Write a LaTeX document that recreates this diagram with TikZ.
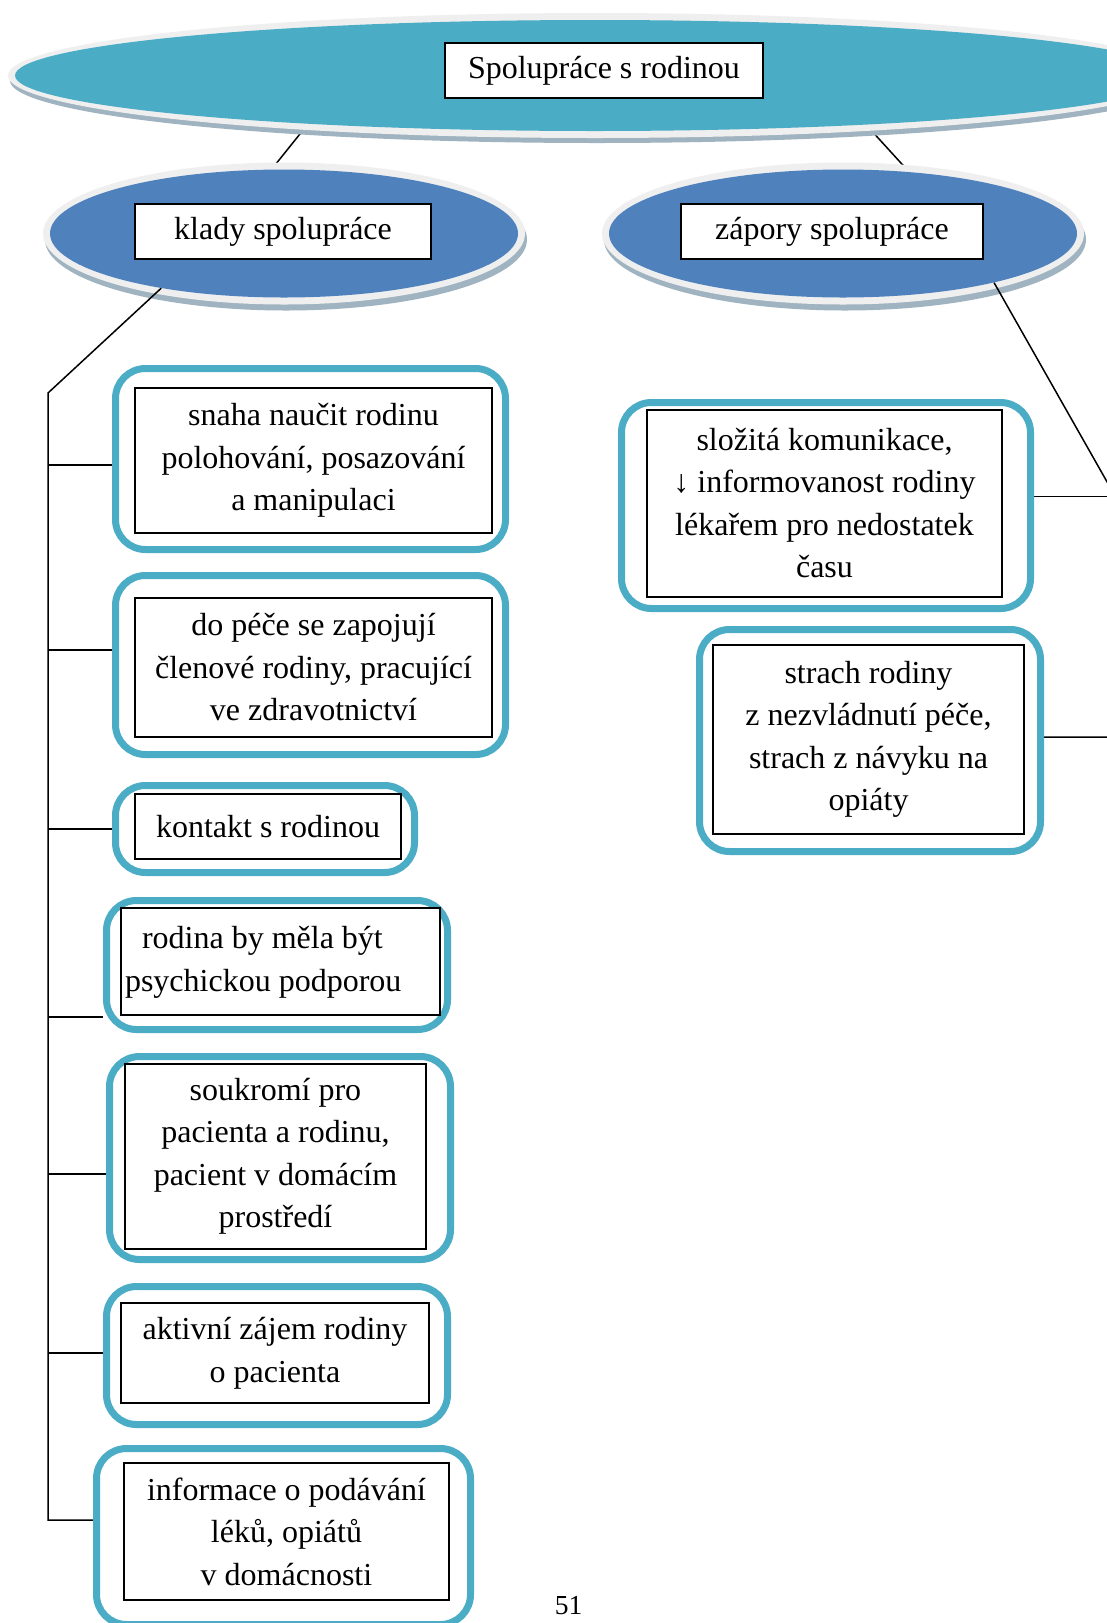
\documentclass[tikz,border=0pt]{standalone}
\usepackage{fontspec}
\setmainfont{Liberation Serif}
\usetikzlibrary{shapes.geometric,calc}
\pgfdeclarelayer{deep}
\pgfdeclarelayer{rims}
\pgfdeclarelayer{links}
\pgfsetlayers{deep,rims,links,main}
\definecolor{capteal}{HTML}{4BACC6}
\definecolor{capblue}{HTML}{4F81BD}
\definecolor{caprim}{HTML}{EFEFEF}
\definecolor{capshade}{HTML}{9FB3C0}
\begin{document}
\begin{tikzpicture}[x=1pt,y=1pt,
  every node/.style={font=\fontsize{32pt}{42.5pt}\selectfont, inner sep=0pt},
  disc/.style={ellipse, fill=#1, draw=none, inner sep=0pt},
  textbox/.style={draw=black, line width=2pt, fill=white, align=center},
  tealframe/.style={draw=capteal, line width=7pt, rounded corners=30pt},
  link/.style={draw=black, line width=1.5pt},
]
\useasboundingbox (0,0) rectangle (1107,-1623);

% --- headings on their discs ---
\node[disc=capteal, minimum width=1160pt, minimum height=111pt] (top) at (595,-75.5) {};
\node[textbox, minimum width=318pt, minimum height=55pt] (topt) at (604,-70.5) {Spolupráce s rodinou};
\node[disc=capblue, minimum width=468pt, minimum height=128pt] (pros) at (284,-233.5) {};
\node[textbox, minimum width=296pt, minimum height=55pt] (prost) at (283,-231.5) {klady spolupráce};
\node[disc=capblue, minimum width=468pt, minimum height=128pt] (cons) at (843,-233.5) {};
\node[textbox, minimum width=302pt, minimum height=55pt] (const) at (832,-231.5) {zápory spolupráce};

% --- advantages (left column) ---
\node[tealframe, minimum width=390pt, minimum height=181pt] (l1) at (310.5,-459) {};
\node[textbox, minimum width=357pt, minimum height=145pt] (t1) at (313.5,-460.5)
  {snaha naučit rodinu\\polohování, posazování\\a manipulaci};
\node[tealframe, minimum width=390pt, minimum height=179pt] (l2) at (310.5,-665) {};
\node[textbox, minimum width=357pt, minimum height=139pt] (t2) at (313.5,-667.5)
  {do péče se zapojují\\členové rodiny, pracující\\ve zdravotnictví};
\node[tealframe, minimum width=299pt, minimum height=87pt] (l3) at (265,-829) {};
\node[textbox, minimum width=266pt, minimum height=65pt] (t3) at (268,-826.5)
  {kontakt s rodinou};
\node[tealframe, minimum width=341pt, minimum height=129pt] (l4) at (277,-965) {};
\node[textbox, inner xsep=4pt, minimum height=107pt] (t4) at (280.5,-961.5)
  {\makebox[311pt][l]{\begin{tabular}{@{}l@{}}\hspace*{17pt}rodina by měla být\\psychickou podporou\end{tabular}}};
\node[tealframe, minimum width=341pt, minimum height=203pt] (l5) at (280,-1158) {};
\node[textbox, minimum width=301pt, minimum height=185pt] (t5) at (275.5,-1156.5)
  {soukromí pro\\pacienta a rodinu,\\pacient v domácím\\prostředí};
\node[tealframe, minimum width=341pt, minimum height=138pt] (l6) at (277,-1355.5) {};
\node[textbox, minimum width=308pt, minimum height=100pt] (t6) at (275,-1353.3)
  {aktivní zájem rodiny\\o pacienta};
\node[tealframe, minimum width=374pt, minimum height=176pt] (l7) at (283.5,-1536.5) {};
\node[textbox, minimum width=325pt, minimum height=137pt] (t7) at (286.5,-1531.5)
  {informace o podávání\\léků, opiátů\\v domácnosti};

% --- disadvantages (right column) ---
\node[tealframe, minimum width=409pt, minimum height=206pt] (r8) at (826,-505.5) {};
\node[textbox, minimum width=355pt, minimum height=187pt] (t8) at (824.5,-503)
  {složitá komunikace,\\↓ informovanost rodiny\\lékařem pro nedostatek\\času};
\node[tealframe, minimum width=341pt, minimum height=222pt] (r9) at (870,-740.5) {};
\node[textbox, minimum width=311pt, minimum height=189pt] (t9) at (868.5,-739.5)
  {strach rodiny\\z nezvládnutí péče,\\strach z návyku na\\opiáty};

% page number
\node[font=\fontsize{27.5pt}{33pt}\selectfont] (pg) at (568.5,-1606) {51};

% --- rims and shadows under the discs ---
\begin{pgfonlayer}{rims}
  \fill[capshade] ([shift={(2,-5)}]top.center) ellipse [x radius=587, y radius=62.5];
  \fill[caprim] (top.center) ellipse [x radius=587, y radius=62.5];
  \fill[capshade] ([shift={(2,-6)}]pros.center) ellipse [x radius=241, y radius=71];
  \fill[caprim] (pros.center) ellipse [x radius=241, y radius=71];
  \fill[capshade] ([shift={(2,-6)}]cons.center) ellipse [x radius=241, y radius=71];
  \fill[caprim] (cons.center) ellipse [x radius=241, y radius=71];
\end{pgfonlayer}

% --- connectors between the discs (beneath the rims) ---
\begin{pgfonlayer}{deep}
  \fill[white] (0,0) rectangle (1107,-1623);
  \coordinate (topl) at ($(top.center)+(-286.5,-47.8)$);
  \coordinate (topr) at ($(top.center)+(270.5,-48.6)$);
  \draw[link] (topl) -- (pros.101.44);
  \draw[link] (topr) -- (cons.43.17);
\end{pgfonlayer}

% --- connectors to the boxes ---
\begin{pgfonlayer}{links}
  \coordinate (ltop) at (48,-393);
  \foreach \n/\dy in {1/-6, 2/15, 3/0, 4/-52, 5/-16, 6/2.5, 7/16.5}{
    \coordinate (j\n) at ([yshift=\dy pt]l\n.west);
  }
  \draw[link] (pros.204.73) -- (ltop) -- (ltop |- j7) -- (j7);
  \foreach \n in {1,...,6}{
    \draw[link] (j\n) -- (j\n -| ltop);
  }

  \coordinate (rtop) at (1112,-490.6);
  \coordinate (j8) at ([yshift=9pt]r8.east);
  \coordinate (j9) at ([yshift=3.5pt]r9.east);
  \draw[link] (cons.342.8) -- (rtop) -- (rtop |- j9) -- (j9);
  \draw[link] (j8) -- (j8 -| rtop);
\end{pgfonlayer}
\end{tikzpicture}
\end{document}
